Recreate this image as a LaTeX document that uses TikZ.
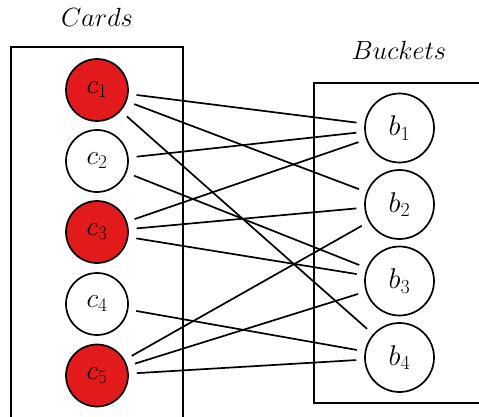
\RequirePackage{fix-cm}
\documentclass[tikz,border=0pt]{standalone}
\definecolor{cardred}{RGB}{227,26,28}
\begin{document}
\begin{tikzpicture}[x=1pt,y=-1pt,
  cnode/.style={circle,draw,line width=1.7pt,minimum size=62pt,inner sep=0pt,font=\fontsize{27.5}{32}\selectfont},
  bnode/.style={circle,draw,line width=1.7pt,minimum size=69pt,inner sep=0pt,font=\fontsize{28.5}{33}\selectfont},
  redc/.style={fill=cardred},
  edge/.style={line width=1.7pt,shorten <=8pt,shorten >=8pt},
  frame/.style={line width=1.7pt},
  title/.style={font=\fontsize{26.3}{31}\selectfont}]
\useasboundingbox (0,0) rectangle (479,417);
\clip (0,0) rectangle (479,417);
\draw[frame] (11,440) -- (11,47) -- (183,47) -- (183,440);
\draw[frame] (500,83) -- (314,83) -- (314,403) -- (500,403);
\node[title] (tc) at (97,17) {$Cards$};
\node[title] (tb) at (399,50) {$Buckets$};
\node[cnode,redc] (c1) at (97,90) {$c_1$};
\node[cnode] (c2) at (97,161) {$c_2$};
\node[cnode,redc] (c3) at (97,232) {$c_3$};
\node[cnode] (c4) at (97,304) {$c_4$};
\node[cnode,redc] (c5) at (97,375.5) {$c_5$};
\node[bnode] (b1) at (399.5,128) {$b_1$};
\node[bnode] (b2) at (399.5,204.5) {$b_2$};
\node[bnode] (b3) at (399.5,281) {$b_3$};
\node[bnode] (b4) at (399.5,357.5) {$b_4$};
\draw[edge] (c1) -- (b1);
\draw[edge] (c1) -- (b2);
\draw[edge] (c1) -- (b4);
\draw[edge] (c2) -- (b1);
\draw[edge] (c2) -- (b3);
\draw[edge] (c3) -- (b1);
\draw[edge] (c3) -- (b2);
\draw[edge] (c3) -- (b3);
\draw[edge] (c4) -- (b4);
\draw[edge] (c5) -- (b2);
\draw[edge] (c5) -- (b3);
\draw[edge] (c5) -- (b4);
\end{tikzpicture}
\end{document}
